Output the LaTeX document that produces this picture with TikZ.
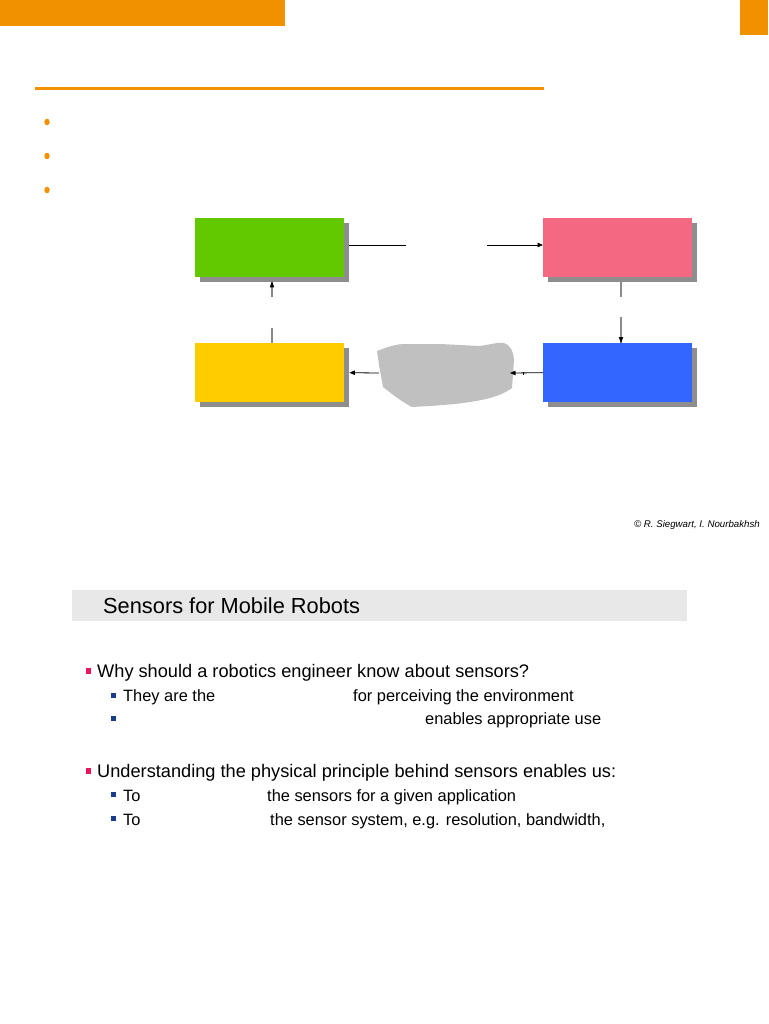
\documentclass[tikz,border=0pt]{standalone}
\usepackage{fontspec}
\setmainfont{Liberation Sans}
\usetikzlibrary{arrows.meta,shadows,calc,shapes.geometric}
\definecolor{orng}{HTML}{F29100}
\definecolor{cgreen}{HTML}{62C800}
\definecolor{cpink}{HTML}{F56882}
\definecolor{cblue}{HTML}{3366FF}
\definecolor{cyellow}{HTML}{FFCC00}
\definecolor{shadowgray}{HTML}{8E8E8E}
\definecolor{blobgray}{HTML}{C0C0C0}
\definecolor{banner}{HTML}{E8E8E8}
\definecolor{bpink}{HTML}{F0145A}
\definecolor{bnavy}{HTML}{1A3C8C}
\definecolor{lgray}{HTML}{8A8A8A}
\begin{document}
\begin{tikzpicture}[x=1pt,y=-1pt,
  box/.style={draw=none, minimum width=149pt, minimum height=59pt, inner sep=0pt, anchor=north west,
    copy shadow={shadow xshift=5pt, shadow yshift=-5pt, fill=shadowgray, draw=none}},
  conn/.style={draw=black, line width=0.8pt},
  gconn/.style={draw=lgray, line width=1.2pt},
  tip/.style={-{Triangle[width=4.5pt,length=5.5pt]}},
  obullet/.style={fill=orng, draw=none, ellipse, minimum width=5.5pt, minimum height=6.5pt, inner sep=0pt},
  txtm/.style={anchor=base west, inner sep=0pt, font=\fontsize{18.2}{20}\selectfont},
  txts/.style={anchor=base west, inner sep=0pt, font=\fontsize{16.4}{18}\selectfont},
]
\useasboundingbox (0,0) rectangle (768,1024);
% orange header bars
\fill[orng] (0,0) rectangle (285,26);
\fill[orng] (740,0) rectangle (768,35);
\fill[orng] (35,87) rectangle (544,90);
% orange bullets
\node[obullet] (ob1) at (47,122) {};
\node[obullet] (ob2) at (47,156) {};
\node[obullet] (ob3) at (47,190) {};

% boxes
\node[box, fill=cgreen] (perc) at (195,218) {};
\node[box, fill=cpink] (plan) at (543,218) {};
\node[box, fill=cyellow] (sens) at (195,343) {};
\node[box, fill=cblue] (act) at (543,343) {};

% environment blob
\fill[blobgray] (377,351) .. controls (390,346) and (398,344) .. (404,344)
  -- (440,344) -- (480,346) .. controls (492,344) and (500,342) .. (504,343)
  .. controls (510,345) and (513,350) .. (514,360)
  -- (512,388) .. controls (505,393) and (500,395) .. (490,398)
  .. controls (470,403) and (450,405) .. (412,407)
  .. controls (402,402) and (392,394) .. (383,387)
  -- (379,365) -- cycle;
\coordinate (envE) at (510,373);
\coordinate (envW) at (379,373);

% connectors
\coordinate (g1) at (406,245);
\coordinate (g2) at (487,245);
\draw[conn] ([xshift=5pt]perc.east |- g1) -- (g1);
\draw[conn,tip] (g2) -- (plan.west |- g2);

\coordinate (p1) at (621,297);
\coordinate (p2) at (621,317);
\draw[gconn] ([yshift=-5pt]plan.south -| p1) -- (p1);
\draw[gconn] (p2) -- (act.north -| p2);
\draw[draw=none,fill=black] (act.north -| p2) -- ++(-2.3,-6) -- ++(4.6,0) -- cycle;

\draw[conn,tip] (act.west) -- (envE);
\draw[conn] (523,372) -- (523,374.5);
\draw[conn,tip] (envW) -- ([xshift=5pt]sens.east);

\coordinate (y1) at (272,328);
\coordinate (y2) at (272,297);
\draw[gconn] (sens.north -| y1) -- (y1);
\draw[gconn] (y2) -- ([yshift=-5pt]perc.south -| y2);
\draw[draw=none,fill=black] ([yshift=-4pt]perc.south -| y2) -- ++(-2.3,6) -- ++(4.6,0) -- cycle;

% copyright
\node[anchor=base east, inner sep=0pt, font=\fontsize{9.7}{11}\selectfont\itshape] (copy) at (760,527) {© R. Siegwart, I. Nourbakhsh};

% lower slide
\fill[banner] (72,590) rectangle (687,621);
\node[anchor=base west, inner sep=0pt, font=\fontsize{21.8}{24}\selectfont] (title) at (103,613) {Sensors for Mobile Robots};

\fill[bpink] (86,668) rectangle (91,674);
\node[txtm] (m1) at (97,677.5) {Why should a robotics engineer know about sensors?};
\fill[bnavy] (111,693) rectangle (116,698);
\node[txts] (s1a) at (123,701.5) {They are the};
\node[txts] (s1b) at (353,701.5) {for perceiving the environment};
\fill[bnavy] (111,716) rectangle (116,721);
\node[txts] (s2b) at (425,724.5) {enables appropriate use};

\fill[bpink] (86,768) rectangle (91,774);
\node[txtm] (m2) at (97,777.5) {Understanding the physical principle behind sensors enables us:};
\fill[bnavy] (111,792) rectangle (116,797);
\node[txts] (s3a) at (123,801) {To};
\node[txts] (s3b) at (267,801) {the sensors for a given application};
\fill[bnavy] (111,816) rectangle (116,821);
\node[txts] (s4a) at (123,825) {To};
\node[txts] (s4b) at (270,825) {the sensor system, e.g. resolution, bandwidth,};
\end{tikzpicture}
\end{document}
